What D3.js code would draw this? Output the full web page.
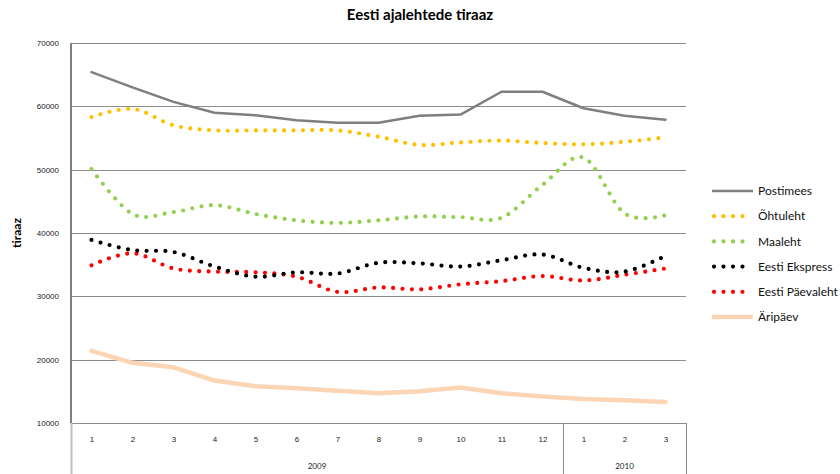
<!DOCTYPE html>
<html>
<head>
<meta charset="utf-8">
<script src="https://cdn.jsdelivr.net/npm/d3@7"></script>
<style>
    body { margin: 0; background: #fff; }
    svg { font-family: "Lato", "Liberation Sans", sans-serif; }
</style>
</head>
<body>
<svg id="chart" width="840" height="474"></svg>
<script>
var months = ["1", "2", "3", "4", "5", "6", "7", "8", "9", "10", "11", "12", "1", "2", "3"];
var years = ["2009", "2010"];
var yearLength = [12, 3];
var yTicks = [10000, 20000, 30000, 40000, 50000, 60000, 70000];

var seriesNames = ["Postimees", "Õhtuleht", "Maaleht", "Eesti Ekspress", "Eesti Päevaleht", "Äripäev"];
var postimees = [65400, 63000, 60700, 59000, 58600, 57800, 57400, 57400, 58500, 58700, 62300, 62300, 59700, 58500, 57900];
var ohtuleht = [58300, 59600, 57000, 56200, 56200, 56200, 56200, 55200, 53900, 54300, 54600, 54200, 54000, 54400, 55100];
var maaleht = [50100, 43000, 43300, 44400, 43000, 42000, 41600, 42000, 42600, 42500, 42400, 47600, 51900, 43100, 42800];
var ekspress = [38900, 37300, 37000, 34700, 33100, 33800, 33600, 35300, 35200, 34700, 35700, 36600, 34500, 33900, 36400];
var paevaleht = [34900, 36800, 34400, 33900, 33800, 33100, 30700, 31400, 31100, 31900, 32400, 33200, 32500, 33400, 34400];
var aripaev = [21400, 19500, 18800, 16700, 15800, 15500, 15100, 14700, 15000, 15600, 14700, 14200, 13800, 13600, 13300];

var seriesColors = ["#7f7f7f", "#ffc000", "#92d050", "#000000", "#ff0000", "#fcd5b5"];

var svg = d3.select("#chart");
var margin = { left: 71, right: 154, top: 43, bottom: 51 };
var width = 840, height = 474;
var plotRight = width - margin.right;
var plotBottom = height - margin.bottom;

var x = d3.scalePoint()
    .domain(d3.range(months.length))
    .range([margin.left, plotRight])
    .padding(0.5);
var step = x.step();

var y = d3.scaleLinear()
    .domain([10000, 70000])
    .range([plotBottom, margin.top]);

// title
svg.append("text")
    .attr("x", 420)
    .attr("y", 20)
    .attr("text-anchor", "middle")
    .style("font-size", "15px")
    .style("font-weight", "bold")
    .text("Eesti ajalehtede tiraaz");

svg.append("text")
    .attr("transform", "translate(21," + ((margin.top + plotBottom) / 2) + ") rotate(-90)")
    .attr("text-anchor", "middle")
    .style("font-size", "12px")
    .style("font-weight", "bold")
    .text("tiraaz");

// gridlines
svg.append("g")
    .selectAll("line")
    .data(yTicks)
    .enter()
    .append("line")
    .attr("x1", margin.left)
    .attr("x2", plotRight)
    .attr("y1", function(d) { return Math.round(y(d)) + 0.5; })
    .attr("y2", function(d) { return Math.round(y(d)) + 0.5; })
    .style("stroke", "#8c8c8c")
    .style("stroke-width", 1);

var yAxis = svg.append("g")
    .attr("transform", "translate(" + margin.left + ",0)")
    .call(d3.axisLeft(y).tickValues(yTicks).tickSize(0).tickPadding(12).tickFormat(d3.format("d")));
yAxis.select(".domain").remove();
yAxis.selectAll("text")
    .style("font-size", "8px")
    .style("fill", "#222");

svg.append("line")
    .attr("x1", margin.left)
    .attr("x2", margin.left)
    .attr("y1", margin.top)
    .attr("y2", plotBottom)
    .style("stroke", "#7f7f7f")
    .style("stroke-width", 2);

// category axis, two levels
var xAxis = svg.append("g")
    .attr("transform", "translate(0," + plotBottom + ")")
    .call(d3.axisBottom(x).tickSize(0).tickPadding(13).tickFormat(function(d) { return months[d]; }));
xAxis.select(".domain").remove();
xAxis.selectAll("text")
    .style("font-size", "8px")
    .style("fill", "#222");

var yearStart = 0;
var bounds = [margin.left];
years.forEach(function(yr, i) {
    var x0 = x(yearStart) - step / 2;
    var x1 = x(yearStart + yearLength[i] - 1) + step / 2;
    svg.append("text")
        .attr("x", (x0 + x1) / 2)
        .attr("y", plotBottom + 46)
        .attr("text-anchor", "middle")
        .style("font-size", "8px")
        .style("fill", "#222")
        .text(yr);
    bounds.push(x1);
    yearStart += yearLength[i];
});

svg.selectAll(".year-sep")
    .data(bounds)
    .enter()
    .append("line")
    .attr("class", "year-sep")
    .attr("x1", function(d) { return Math.round(d) + 0.5; })
    .attr("x2", function(d) { return Math.round(d) + 0.5; })
    .attr("y1", plotBottom)
    .attr("y2", height)
    .style("stroke", function(d, i) { return i == 0 ? "#bdbdbd" : "#8c8c8c"; })
    .style("stroke-width", function(d, i) { return i == 0 ? 2 : 1; });

// series
var allSeries = [postimees, ohtuleht, maaleht, ekspress, paevaleht, aripaev];
var dotted = [false, true, true, true, true, false];
var widths = [2.5, 4.2, 4.2, 4.2, 4.2, 4.5];

var straightLine = d3.line()
    .x(function(d, i) { return x(i); })
    .y(function(d) { return y(d); });
var smoothLine = d3.line()
    .x(function(d, i) { return x(i); })
    .y(function(d) { return y(d); })
    .curve(d3.curveCardinal.tension(0));

// draw in reverse legend order so Postimees stays on top
d3.range(allSeries.length).reverse().forEach(function(k) {
    svg.append("path")
        .datum(allSeries[k])
        .attr("d", dotted[k] ? smoothLine : straightLine)
        .style("fill", "none")
        .style("stroke", seriesColors[k])
        .style("stroke-width", widths[k])
        .style("stroke-linecap", "round")
        .style("stroke-linejoin", "round")
        .style("stroke-dasharray", dotted[k] ? "0 9.4" : null);
});

// legend
var legend = svg.append("g")
    .attr("transform", "translate(712,191)");

var item = legend.selectAll("g")
    .data(seriesNames)
    .enter()
    .append("g")
    .attr("transform", function(d, i) { return "translate(0," + (i * 25.2) + ")"; });

item.append("line")
    .attr("x1", function(d, i) { return dotted[i] ? 2 : 0; })
    .attr("x2", function(d, i) { return dotted[i] ? 40 : 41; })
    .attr("y1", 0)
    .attr("y2", 0)
    .style("stroke", function(d, i) { return seriesColors[i]; })
    .style("stroke-width", function(d, i) { return widths[i]; })
    .style("stroke-linecap", function(d, i) { return dotted[i] ? "round" : "butt"; })
    .style("stroke-dasharray", function(d, i) { return dotted[i] ? "0 9.5" : null; });

item.append("text")
    .attr("x", 46)
    .attr("y", 0)
    .attr("dy", "0.35em")
    .style("font-size", "12px")
    .style("fill", "#111")
    .text(function(d) { return d; });
</script>
</body>
</html>
